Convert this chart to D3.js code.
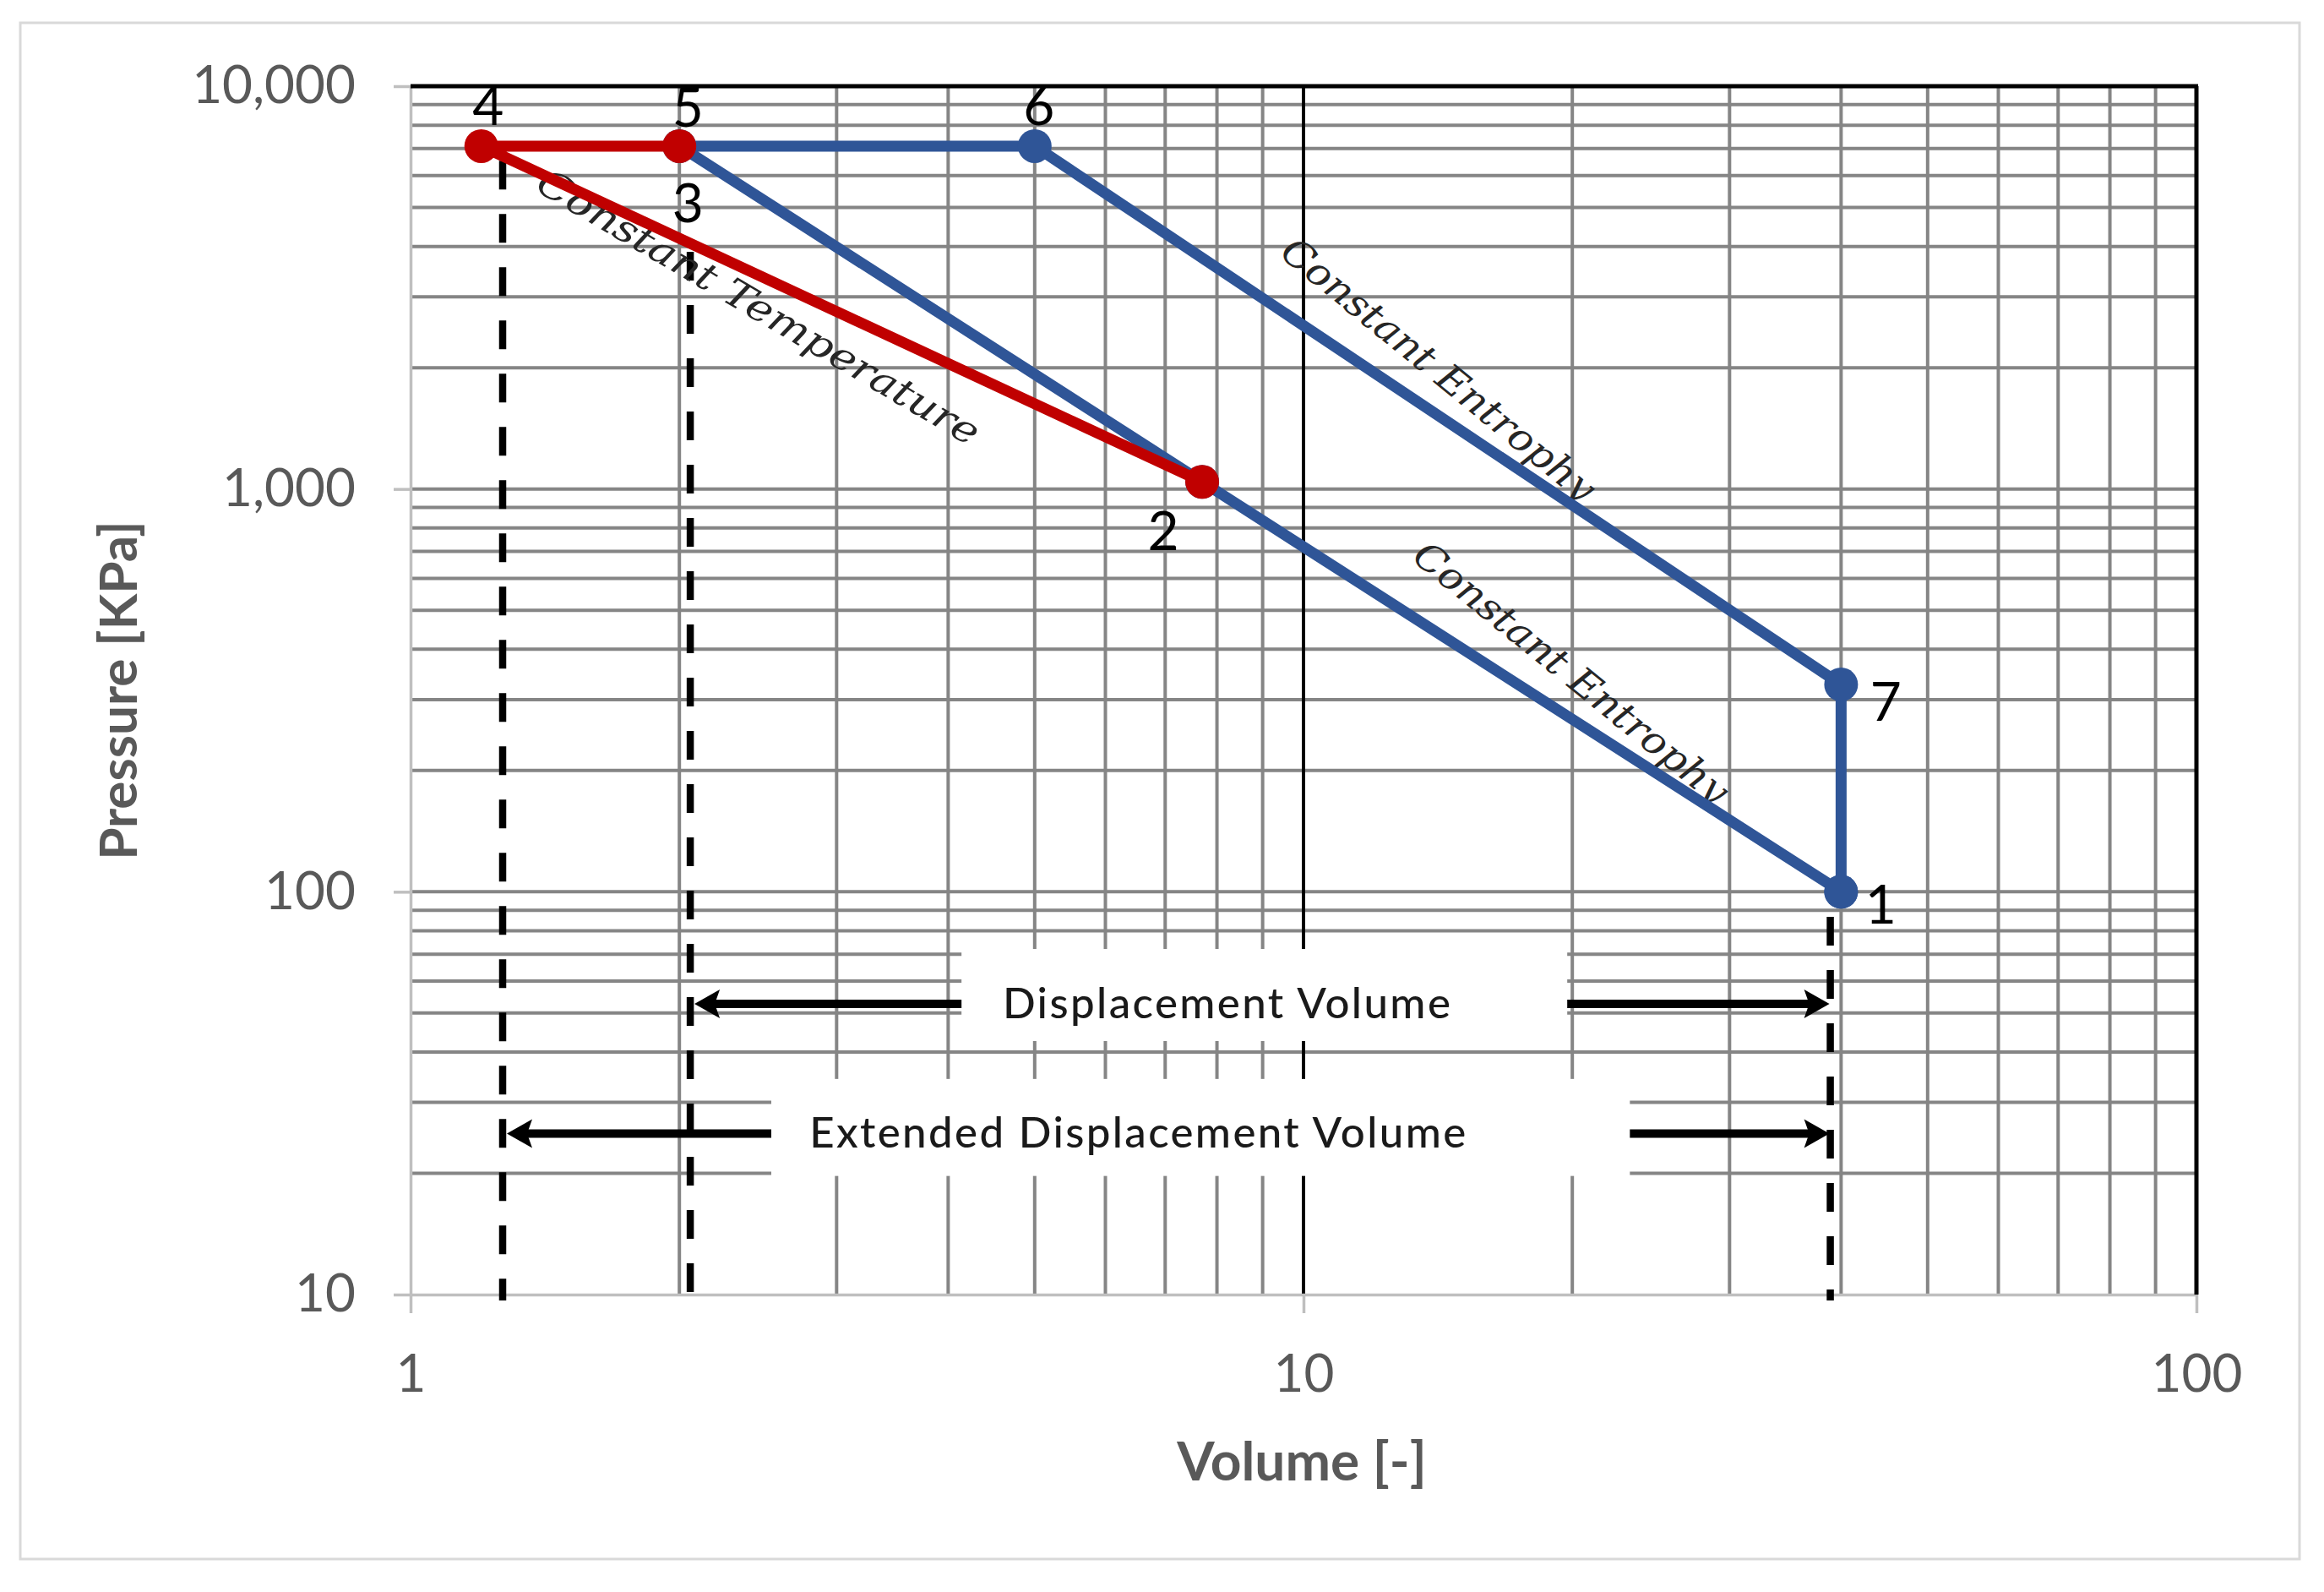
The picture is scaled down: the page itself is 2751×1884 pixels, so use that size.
<!DOCTYPE html>
<html>
<head>
<meta charset="utf-8">
<script src="https://cdn.jsdelivr.net/npm/d3@7"></script>
<style>
	html, body { margin: 0; padding: 0; background: #fff; }
	svg { display: block; }
</style>
</head>
<body>
<div id="chart-wrapper"></div>
<script>

// state points of the cycle, 1..7 (volume [-], pressure [kPa])
var stateNames = ["1", "2", "3", "4", "5", "6", "7"];
var stateVolume = [40, 7.7, 2.0, 1.2, 2.0, 5.0, 40];
var statePressure = [100, 1042, 7100, 7100, 7100, 7100, 327];

// order the two curves go through the states (index into the arrays above)
var bluePath = [0, 1, 2, 5, 6, 0];
var redPath = [4, 3, 1];

var xTicks = [1, 10, 100];
var yTicks = [10, 100, 1000, 10000];

// dashed volume markers: volume and the pressure where the dash starts
var dashVolume = [1.268, 2.057, 38.9];
var dashTop = [6530, 3880, 86.7];

// dimension arrows
var arrowLabels = ["Displacement Volume", "Extended Displacement Volume"];
var arrowFrom = [2.057, 1.268];
var arrowTo = [38.9, 38.9];
var arrowPressure = [52.7, 25.1];
var arrowTextVolume = [8.2, 6.52];
// white text boxes sitting on the arrows
var boxVolumeLeft = [4.14, 2.535];
var boxVolumeRight = [19.74, 23.2];
var boxPressureTop = [72.1, 34.3];
var boxPressureBottom = [42.6, 19.7];

// process notes along the curves
var noteLabels = ["Constant Temperature", "Constant Entrophy", "Constant Entrophy"];
var noteVolume = [2.454, 14.17, 19.95];
var notePressure = [2835, 1983, 350];


var width = 2751, height = 1884;
var plot = {left: 486, right: 2600, top: 102, bottom: 1532};
var blue = "#2f5597", red = "#c00000";
var gridColor = "#858585";

var svg = d3.select("#chart-wrapper").append("svg")
			.attr("width", width)
			.attr("height", height);

svg.append("rect").attr("width", width).attr("height", height).attr("fill", "#fff");
svg.append("rect")
	.attr("x", 24).attr("y", 27)
	.attr("width", 2698).attr("height", 1818)
	.attr("fill", "none")
	.attr("stroke", "#d9d9d9")
	.attr("stroke-width", 3);

var x = d3.scaleLog().domain([1, 100]).range([plot.left, plot.right]);
var y = d3.scaleLog().domain([10, 10000]).range([plot.bottom, plot.top]);

drawGrid();
drawAxes();
drawArrows();
drawDashes();
drawNotes();
drawCurve(bluePath, blue);
drawCurve(redPath, red);
drawLabels();


function drawGrid(){
	var grid = svg.append("g");
	y.ticks().forEach(function(v){
		if (v == 10 || v == 10000) return;
		grid.append("line")
			.attr("x1", plot.left).attr("x2", plot.right)
			.attr("y1", y(v)).attr("y2", y(v))
			.attr("stroke", gridColor)
			.attr("stroke-width", 4);
	});
	x.ticks().forEach(function(v){
		if (v == 1 || v == 100 || v == 10) return;
		grid.append("line")
			.attr("x1", x(v)).attr("x2", x(v))
			.attr("y1", plot.top).attr("y2", plot.bottom)
			.attr("stroke", gridColor)
			.attr("stroke-width", 4);
	});
	// major vertical line at 10
	grid.append("line")
		.attr("x1", x(10)).attr("x2", x(10))
		.attr("y1", plot.top).attr("y2", plot.bottom)
		.attr("stroke", "#000")
		.attr("stroke-width", 4);
}

function drawAxes(){
	var yAxis = d3.axisLeft(y)
				.tickValues(yTicks)
				.tickFormat(d3.format(","))
				.tickSizeInner(20)
				.tickSizeOuter(0)
				.tickPadding(45);
	var xAxis = d3.axisBottom(x)
				.tickValues(xTicks)
				.tickFormat(d3.format(","))
				.tickSizeInner(22)
				.tickSizeOuter(0)
				.tickPadding(49);

	var gy = svg.append("g").attr("transform", "translate(" + plot.left + ",0)").call(yAxis);
	var gx = svg.append("g").attr("transform", "translate(0," + plot.bottom + ")").call(xAxis);

	[gx, gy].forEach(function(g){
		g.attr("font-family", "Lato, sans-serif").attr("font-size", 62);
		g.select(".domain").attr("stroke", "#bfbfbf").attr("stroke-width", 3.5);
		g.selectAll(".tick line").attr("stroke", "#bfbfbf").attr("stroke-width", 3.5);
		g.selectAll(".tick text").attr("fill", "#595959");
	});

	// black frame on top and right
	svg.append("line")
		.attr("x1", plot.left).attr("x2", plot.right + 2)
		.attr("y1", y(10000)).attr("y2", y(10000))
		.attr("stroke", "#000").attr("stroke-width", 5);
	svg.append("line")
		.attr("x1", x(100)).attr("x2", x(100))
		.attr("y1", plot.top).attr("y2", plot.bottom)
		.attr("stroke", "#000").attr("stroke-width", 5);

	svg.append("text")
		.attr("transform", "translate(140," + ((plot.top + plot.bottom) / 2) + ") rotate(-90)")
		.attr("text-anchor", "middle")
		.attr("dy", "0.35em")
		.style("font-family", "Lato, sans-serif")
		.style("font-weight", "bold")
		.style("font-size", "62px")
		.style("fill", "#595959")
		.text("Pressure [KPa]");

	svg.append("text")
		.attr("x", (plot.left + plot.right) / 2 - 2)
		.attr("y", 1752)
		.attr("text-anchor", "middle")
		.style("font-family", "Lato, sans-serif")
		.style("font-weight", "bold")
		.style("font-size", "64px")
		.style("fill", "#595959")
		.text("Volume [-]");
}

function arrowHead(g, tipX, tipY, dir){
	// dir = -1 points left, 1 points right
	var len = 30, half = 17, notch = 6;
	var p = [[tipX, tipY],
			 [tipX - dir * len, tipY - half],
			 [tipX - dir * (len - notch), tipY],
			 [tipX - dir * len, tipY + half]];
	g.append("path")
		.attr("d", "M" + p.join("L") + "Z")
		.attr("fill", "#000");
}

function drawArrows(){
	var g = svg.append("g");
	var sizes = [530, 777];
	for (var i = 0; i < arrowLabels.length; i++){
		var yy = y(arrowPressure[i]);
		var x0 = x(arrowFrom[i]) + 5, x1 = x(arrowTo[i]) - 1;
		g.append("line")
			.attr("x1", x0 + 12).attr("x2", x1 - 12)
			.attr("y1", yy).attr("y2", yy)
			.attr("stroke", "#000")
			.attr("stroke-width", 10);
		arrowHead(g, x0, yy, -1);
		arrowHead(g, x1, yy, 1);

		g.append("rect")
			.attr("x", x(boxVolumeLeft[i]))
			.attr("y", y(boxPressureTop[i]))
			.attr("width", x(boxVolumeRight[i]) - x(boxVolumeLeft[i]))
			.attr("height", y(boxPressureBottom[i]) - y(boxPressureTop[i]))
			.attr("fill", "#fff");

		g.append("text")
			.attr("x", x(arrowTextVolume[i]))
			.attr("y", yy + 17)
			.attr("text-anchor", "middle")
			.attr("textLength", sizes[i])
			.attr("lengthAdjust", "spacing")
			.style("font-family", "Lato, sans-serif")
			.style("font-weight", 500)
			.style("font-size", "51px")
			.style("fill", "#1a1a1a")
			.text(arrowLabels[i]);
	}
}

function drawDashes(){
	var g = svg.append("g");
	for (var i = 0; i < dashVolume.length; i++){
		g.append("line")
			.attr("x1", x(dashVolume[i])).attr("x2", x(dashVolume[i]))
			.attr("y1", y(dashTop[i])).attr("y2", plot.bottom + 7)
			.attr("stroke", "#000")
			.attr("stroke-width", 8.5)
			.attr("stroke-dasharray", "34,29");
	}
}

function drawNotes(){
	var angles = [30.5, 39.3, 39];
	var lengths = [600, 465, 465];
	for (var i = 0; i < noteLabels.length; i++){
		svg.append("text")
			.attr("transform", "translate(" + x(noteVolume[i]) + "," + y(notePressure[i]) + ") rotate(" + angles[i] + ")")
			.attr("text-anchor", "middle")
			.attr("dy", "0.35em")
			.attr("textLength", lengths[i])
			.attr("lengthAdjust", "spacingAndGlyphs")
			.style("font-family", "'DejaVu Serif', serif")
			.style("font-style", "italic")
			.style("font-size", "45px")
			.style("fill", "#262626")
			.text(noteLabels[i]);
	}
}

function drawCurve(path, color){
	var line = d3.line()
				.x(function(d){ return x(stateVolume[d]); })
				.y(function(d){ return y(statePressure[d]); });
	var g = svg.append("g");
	g.append("path")
		.attr("d", line(path))
		.attr("fill", "none")
		.attr("stroke", color)
		.attr("stroke-width", 13)
		.attr("stroke-linejoin", "round");
	g.selectAll("circle")
		.data(path)
		.enter().append("circle")
		.attr("cx", function(d){ return x(stateVolume[d]); })
		.attr("cy", function(d){ return y(statePressure[d]); })
		.attr("r", 20)
		.attr("fill", color);
}

function drawLabels(){
	// label offset from its point, px
	var offsets = [[47, 15], [-46, 58], [10, 67], [8, -48], [10, -46], [5, -48], [53, 20]];
	for (var i = 0; i < stateNames.length; i++){
		svg.append("text")
			.attr("x", x(stateVolume[i]) + offsets[i][0])
			.attr("y", y(statePressure[i]) + offsets[i][1])
			.attr("dy", "0.36em")
			.attr("text-anchor", "middle")
			.style("font-family", "Lato, sans-serif")
			.style("font-size", "64px")
			.style("fill", "#000")
			.text(stateNames[i]);
	}
}
</script>
</body>
</html>
